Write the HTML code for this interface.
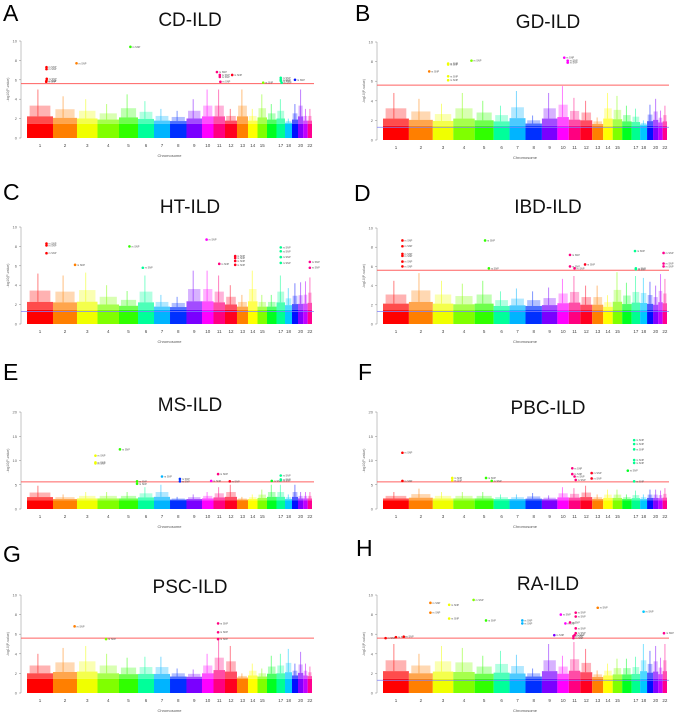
<!DOCTYPE html>
<html><head><meta charset="utf-8">
<style>
html,body{margin:0;padding:0;background:#fff;}
svg{display:block;font-family:"Liberation Sans",sans-serif;}
</style></head>
<body>
<svg id="fig" width="676" height="712" viewBox="0 0 676 712"></svg>
<script>
// chromosome boundary fractions along the x axis (axis layout, with gaps as in reference)
const chromBounds = [0,0.0912,0.1754,0.2474,0.3228,0.3895,0.4456,0.5018,0.5596,0.6140,0.6544,0.6947,0.7368,0.7754,0.8088,0.8421,0.8754,0.9053,0.9298,0.9509,0.9691,0.9849,1.0];
const chromColors = ["#ff0000","#ff7f00","#f0ff00","#80ff00","#30ff00","#00ff9a","#00b4ff","#0030ff","#7a00ff","#ff00ff","#ff0080","#ff0020","#ff8000","#ffff00","#80ff00","#00ff20","#00ff90","#00c8ff","#0010ff","#8000ff","#c000ff","#ff0090"];
const chromLabels = ["1","2","3","4","5","6","7","8","9","10","11","12","13","14","15","","17","18","","20","","22"];

// hits: [chromosome, position fraction, -log10 p]
const hitsA = [[1,0.75,7.3],[1,0.75,7.1],[1,0.76,6.1],[1,0.75,5.9],[1,0.74,5.8],[2,0.98,7.7],[5,0.6,9.4],[11,0.3,6.8],[11,0.55,6.5],[11,0.55,6.3],[11,0.6,5.8],[12,0.6,6.5],[15,0.6,5.7],[17,0.5,6.2],[17,0.5,6.0],[17,0.5,5.9],[17,0.6,5.7],[19,0.5,6.0]];
const hitsB = [[2,0.85,7.0],[3,0.75,7.8],[3,0.75,7.7],[3,0.75,6.5],[3,0.75,6.1],[4,0.85,8.1],[10,0.6,8.4],[10,0.9,8.1],[10,0.9,7.9]];
const hitsC = [[1,0.75,8.3],[1,0.75,8.1],[1,0.75,7.3],[2,0.92,6.1],[5,0.55,8.0],[6,0.3,5.8],[10,0.4,8.7],[11,0.5,6.2],[12,0.85,7.0],[12,0.85,6.8],[12,0.85,6.5],[12,0.85,6.1],[17,0.5,7.9],[17,0.5,7.5],[17,0.5,6.9],[17,0.5,6.3],[22,0.5,6.4],[22,0.5,5.8]];
const hitsD = [[1,0.75,8.7],[1,0.75,8.1],[1,0.75,7.3],[1,0.75,7.1],[1,0.75,6.5],[1,0.75,6.0],[5,0.55,8.7],[5,0.75,5.8],[11,0.1,7.2],[11,0.1,6.0],[11,0.5,5.8],[12,0.4,6.2],[17,0.4,7.6],[17,0.5,5.8],[17,0.5,5.7],[22,0.2,7.4],[22,0.2,6.3],[22,0.2,6.0]];
const hitsE = [[3,0.9,11.0],[3,0.9,9.6],[3,0.9,9.4],[5,0.05,12.3],[5,0.95,5.7],[5,0.95,5.2],[7,0.5,6.7],[8,0.6,6.2],[8,0.6,5.7],[11,0.4,7.2],[10,0.8,5.8],[12,0.4,5.7],[16,0.5,5.8],[17,0.5,6.9],[17,0.5,6.1],[17,0.5,5.9]];
const hitsF = [[1,0.75,11.6],[1,0.75,5.8],[3,0.95,6.4],[3,0.95,5.9],[5,0.6,6.4],[5,0.9,5.8],[11,0.3,8.4],[11,0.3,7.2],[11,0.5,6.7],[11,0.6,6.0],[12,0.95,7.4],[12,0.95,6.3],[16,0.6,7.9],[17,0.3,14.2],[17,0.3,13.4],[17,0.3,12.3],[17,0.3,10.1],[17,0.3,9.5],[17,0.3,5.7]];
const hitsG = [[2,0.9,6.8],[4,0.4,5.5],[11,0.4,7.1],[11,0.4,6.2],[11,0.4,5.5]];
const hitsH = [[1,0.1,5.6],[1,0.5,5.7],[1,0.8,5.75],[2,0.9,9.2],[2,0.9,8.2],[3,0.8,9.0],[3,0.8,7.6],[4,0.95,9.5],[5,0.6,7.4],[7,0.8,7.4],[7,0.8,7.1],[9,0.8,5.9],[10,0.3,8.0],[10,0.7,7.1],[11,0.1,7.2],[11,0.6,8.2],[11,0.6,7.8],[11,0.6,6.6],[11,0.6,6.1],[11,0.5,5.9],[11,0.4,5.8],[11,0.4,5.6],[13,0.5,8.7],[18,0.5,8.3],[22,0.3,6.1]];

// background peak (max of non-significant SNPs) per chromosome
const bgA = [5,4.3,4,3.5,4.5,3.8,3,2.8,4,5,5,3,5,3,4.5,3.5,4,2,3.5,5,3,3];
const bgB = [4.8,4.2,3.7,4.8,4,3.5,5,2.5,4.8,5.5,4.3,4,2.3,4.8,4.5,3.5,3.2,2,3.6,4.2,3,3.5];
const bgC = [5.2,5,5.3,4,3.4,5,3,2.8,5.5,5.5,5,4,3,5.5,3,3,5,3.7,4.2,4.3,4.4,4.8];
const bgD = [4.5,5.3,4.5,4.2,4.5,3.4,3.7,3.4,3.8,4.7,5,4,4,3,5.4,4.3,5,4.8,4.4,4,5.2,4.7];
const bgE = [4.8,3,3.5,3.5,3.5,4.5,5,2.5,3,3.5,4.5,5,2.5,3,4,5,5,3,5,3.5,3.5,3.5];
const bgF = [3.5,4.2,3.5,3.5,3.5,3,3,3.3,2.8,4.5,4.3,4.8,3,4,4,3,3.8,3,4,4,3.8,4.3];
const bgG = [4,4.6,4.8,4,3.6,3.7,3.7,2.5,2.4,4,5.5,4.8,2,3,2.5,3.8,4,4.5,3,4.2,3,2.7];
const bgH = [5,4,4.8,4.6,3.8,4.3,3.9,2.5,5,3.8,5.2,4.5,2.3,3,3.5,3.5,3.7,5,4.3,4.8,3.6,5];

const panels = [
 {id:"a",letter:"A",lx:3,ly:21,title:"CD-ILD",tx:190,ty:26,x0:27,x1:312,yT:41,yB:138,ymax:10,step:2,red:5.6,blue:null,hits:hitsA,bg:bgA},
 {id:"b",letter:"B",lx:355,ly:21,title:"GD-ILD",tx:548,ty:28,x0:383,x1:667,yT:42,yB:140,ymax:10,step:2,red:5.6,blue:1.3,hits:hitsB,bg:bgB},
 {id:"c",letter:"C",lx:3,ly:200,title:"HT-ILD",tx:190,ty:213,x0:27,x1:312,yT:227,yB:324,ymax:10,step:2,red:null,blue:1.3,hits:hitsC,bg:bgC},
 {id:"d",letter:"D",lx:354,ly:201,title:"IBD-ILD",tx:548,ty:213,x0:383,x1:667,yT:228,yB:324,ymax:10,step:2,red:5.6,blue:1.3,hits:hitsD,bg:bgD},
 {id:"e",letter:"E",lx:3,ly:380,title:"MS-ILD",tx:190,ty:411,x0:27,x1:312,yT:412,yB:509,ymax:20,step:5,red:5.6,blue:null,hits:hitsE,bg:bgE},
 {id:"f",letter:"F",lx:358,ly:380,title:"PBC-ILD",tx:548,ty:414,x0:383,x1:667,yT:412,yB:509,ymax:20,step:5,red:5.6,blue:null,hits:hitsF,bg:bgF},
 {id:"g",letter:"G",lx:3,ly:562,title:"PSC-ILD",tx:190,ty:593,x0:27,x1:312,yT:595,yB:693,ymax:10,step:2,red:5.6,blue:null,hits:hitsG,bg:bgG},
 {id:"h",letter:"H",lx:356,ly:556,title:"RA-ILD",tx:548,ty:590,x0:383,x1:667,yT:595,yB:693,ymax:10,step:2,red:5.6,blue:1.3,hits:hitsH,bg:bgH}
];

const NS="http://www.w3.org/2000/svg";
const fig=document.getElementById("fig");
function mk(tag,attrs,parent){const e=document.createElementNS(NS,tag);for(const k in attrs)e.setAttribute(k,attrs[k]);parent.appendChild(e);return e;}

panels.forEach(p=>{
  const g=mk("g",{},fig);
  
  
  const W=p.x1-p.x0;
  const xs=c=>p.x0+W*chromBounds[c];
  const xw=c=>W*(chromBounds[c+1]-chromBounds[c]);
  const y=v=>p.yB-(p.yB-p.yT)*v/p.ymax;

  const L=mk("text",{x:p.lx,y:p.ly,"font-size":23,fill:"#000"},g);L.textContent=p.letter;
  
  
  const T=mk("text",{x:p.tx,y:p.ty,"font-size":19,"text-anchor":"middle",fill:"#111"},g);T.textContent=p.title;
  
  

  const ax=mk("line",{x1:p.x0-6,x2:p.x0-6,y1:p.yT,y2:p.yB,stroke:"#888","stroke-width":0.5},g);
  
  
  for(let v=0;v<=p.ymax;v+=p.step){
    mk("line",{x1:p.x0-8,x2:p.x0-6,y1:y(v),y2:y(v),stroke:"#888","stroke-width":0.5},g);
    const t=mk("text",{x:p.x0-10,y:y(v)+1.5,"font-size":4,"text-anchor":"end",fill:"#666"},g);t.textContent=v;
    
    
  }
  const yt=mk("text",{x:0,y:0,"font-size":3.5,"text-anchor":"middle",fill:"#666",transform:`translate(${p.x0-18},${(p.yT+p.yB)/2}) rotate(-90)`},g);
  yt.textContent="-log10(P-value)";
  
  

  chromLabels.forEach((lab,c)=>{
    const x=xs(c),w=xw(c),col=chromColors[c];
    const base=(p.ymax===20?1.8:1.45);
    const mid=base+(p.bg[c]-base)*0.22;
    const r1=mk("rect",{x:x,y:y(base),width:w,height:p.yB-y(base),fill:col},g);
    
    
    mk("rect",{x:x,y:y(mid),width:w,height:y(base)-y(mid),fill:col,opacity:0.7},g);
    mk("rect",{x:x+w*0.1,y:y(mid+(p.bg[c]-mid)*0.4),width:w*0.8,height:y(mid)-y(mid+(p.bg[c]-mid)*0.4),fill:col,opacity:0.3},g);
    mk("rect",{x:x+w*0.4,y:y(p.bg[c]),width:1,height:y(mid)-y(p.bg[c]),fill:col,opacity:0.5},g);
    if(lab){
      const t=mk("text",{x:x+w/2,y:p.yB+9,"font-size":4.5,"text-anchor":"middle",fill:"#444"},g);t.textContent=lab;
      
      
    }
  });
  const xt=mk("text",{x:(p.x0+p.x1)/2,y:p.yB+19,"font-size":4,"text-anchor":"middle",fill:"#555"},g);
  xt.textContent="Chromosome";
  
  

  if(p.red!==null){
    const r=mk("line",{x1:p.x0-6,x2:p.x1+2,y1:y(p.red),y2:y(p.red),stroke:"#ff6060","stroke-width":1},g);
    
    
  }
  if(p.blue!==null){
    const b=mk("line",{x1:p.x0-6,x2:p.x1+2,y1:y(p.blue),y2:y(p.blue),stroke:"#8080ff","stroke-width":0.8},g);
    
    
  }

  p.hits.forEach(h=>{
    const c=h[0]-1,cx=xs(c)+xw(c)*h[1],cy=y(h[2]);
    const col=chromColors[c];
    const d=mk("circle",{cx:cx,cy:cy,r:1.3,fill:col},g);
    
    
    const lb=mk("text",{x:cx+2,y:cy+1,"font-size":2.5,fill:"#555"},g);lb.textContent="rs SNP";
    
    
  });
});
</script>
</body></html>
